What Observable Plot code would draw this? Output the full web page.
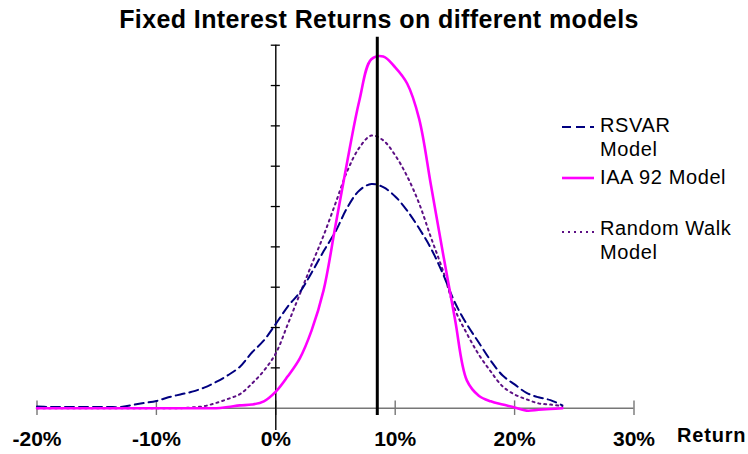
<!DOCTYPE html>
<html>
<head>
<meta charset="utf-8">
<script src="https://cdn.jsdelivr.net/npm/d3@7"></script>
<script src="https://cdn.jsdelivr.net/npm/@observablehq/plot@0.6"></script>
<style>
  html, body { margin: 0; padding: 0; background: #fff; }
  #wrap { position: relative; width: 748px; height: 454px; font-family: "Liberation Sans", Arial, sans-serif; }
  #title { position: absolute; left: 0; width: 758px; top: 5px; text-align: center; font-size: 25px; font-weight: bold; letter-spacing: 0.4px; color: #000; }
  #ret { position: absolute; left: 677px; top: 424px; font-size: 20px; font-weight: bold; letter-spacing: 0.8px; }
  .leg { position: absolute; left: 600px; font-size: 20px; letter-spacing: 0.6px; line-height: 24px; color: #000; }
  .sw { position: absolute; left: 560px; }
</style>
</head>
<body>
<div id="wrap">
  <div id="chart"></div>
  <div id="title"></div>
  <div id="ret"></div>
  <div id="legend"></div>
</div>
<script>
const titleText = "Fixed Interest Returns on different models";
const xLabel = "Return";
const returns = [-20,-19,-18,-17,-16,-15,-14,-13,-12,-11,-10,-9,-8,-7,-6,-5,-4,-3,-2,-1,0,1,2,3,4,5,6,7,8,9,10,11,12,13,14,15,16,17,18,19,20,21,22,23,24];
const rsvar = [0.04,0.03,0.03,0.03,0.03,0.03,0.03,0.03,0.08,0.13,0.18,0.27,0.34,0.41,0.51,0.65,0.82,1.03,1.38,1.68,2.09,2.52,2.87,3.36,3.89,4.38,4.98,5.40,5.56,5.48,5.25,4.90,4.46,3.96,3.33,2.62,2.08,1.63,1.18,0.81,0.59,0.38,0.27,0.20,0.07];
const iaa92 = [0,0,0,0,0,0,0,0,0,0,0,0,0,0,0,0,0.03,0.07,0.09,0.17,0.41,0.79,1.23,1.93,2.92,4.53,6.14,7.63,8.65,8.72,8.45,8.05,7.18,5.52,3.84,2.22,0.69,0.31,0.17,0.09,0.02,-0.06,-0.04,-0.02,0];
const randomWalk = [0,0,0,0,0,0,0,0,0,0,0,0,0,0.02,0.05,0.13,0.23,0.35,0.61,0.93,1.36,2.08,2.82,3.56,4.28,5.08,5.89,6.46,6.76,6.64,6.27,5.75,5.08,4.23,3.41,2.45,1.85,1.33,0.91,0.54,0.34,0.22,0.12,0.09,0.05];
const seriesNames = ["RSVAR Model", "IAA 92 Model", "Random Walk Model"];
const xTicks = [-20,-10,0,10,20,30];
const yTicks = [1,2,3,4,5,6,7,8,9];
const markerReturn = 8.5;

const data = [];
returns.forEach((r, i) => {
  data.push({x: r, y: rsvar[i], s: seriesNames[0]});
  data.push({x: r, y: iaa92[i], s: seriesNames[1]});
  data.push({x: r, y: randomWalk[i], s: seriesNames[2]});
});
const bySeries = name => data.filter(d => d.s === name);

const chart = Plot.plot({
  width: 748,
  height: 454,
  marginLeft: 36.5,
  marginRight: 114.5,
  marginTop: 44.7,
  marginBottom: 46.3,
  style: {fontFamily: "Liberation Sans, Arial, sans-serif", background: "white", overflow: "visible"},
  x: {domain: [-20, 30]},
  y: {domain: [0, 9], axis: null},
  marks: [
    Plot.ruleY([0], {x1: -20, x2: 30, stroke: "#777", strokeWidth: 1.6}),
    Plot.ruleX(xTicks, {x: d => d, y1: -0.18, y2: 0.18, stroke: "#777", strokeWidth: 1.4}),
    Plot.ruleX([0], {y1: -0.55, y2: 9, stroke: "#000", strokeWidth: 1.4}),
    Plot.ruleY(yTicks, {y: d => d, x1: -0.38, x2: 0.38, stroke: "#000", strokeWidth: 1.3}),
    Plot.line(bySeries(seriesNames[2]), {x: "x", y: "y", curve: "catmull-rom", stroke: "#5c0f84", strokeWidth: 2, strokeDasharray: "2,4"}),
    Plot.line(bySeries(seriesNames[0]), {x: "x", y: "y", curve: "catmull-rom", stroke: "#000080", strokeWidth: 2, strokeDasharray: "9,5"}),
    Plot.line(bySeries(seriesNames[1]), {x: "x", y: "y", curve: "catmull-rom", stroke: "#ff00ff", strokeWidth: 2.6}),
    Plot.ruleX([markerReturn], {y1: -0.18, y2: 9.2, stroke: "#000", strokeWidth: 3}),
    Plot.axisX({ticks: xTicks, tickSize: 0, tickPadding: 23, tickFormat: d => d + "%", fontSize: 21, fontWeight: "bold", label: null, style: {letterSpacing: "0.5px"}})
  ]
});
document.getElementById("chart").appendChild(chart);
document.getElementById("title").textContent = titleText;
document.getElementById("ret").textContent = xLabel;

const legend = document.getElementById("legend");
const legendItems = [
  {lines: ["RSVAR", "Model"], top: 113, sw: 127, stroke: "#000080", dash: "9,5", w: 2},
  {lines: ["IAA 92 Model"], top: 165, sw: 178, stroke: "#ff00ff", dash: null, w: 2.6},
  {lines: ["Random Walk", "Model"], top: 216, sw: 231.5, stroke: "#5c0f84", dash: "2,4", w: 2}
];
legendItems.forEach(it => {
  const t = document.createElement("div");
  t.className = "leg";
  t.style.top = it.top + "px";
  t.innerHTML = it.lines.join("<br>");
  legend.appendChild(t);
  const s = d3.create("svg").attr("class", "sw").attr("width", 36).attr("height", 6)
    .style("top", (it.sw - 3) + "px");
  s.append("line").attr("x1", 2).attr("x2", 34).attr("y1", 3).attr("y2", 3)
    .attr("stroke", it.stroke).attr("stroke-width", it.w)
    .attr("stroke-dasharray", it.dash);
  legend.appendChild(s.node());
});
</script>
</body>
</html>
